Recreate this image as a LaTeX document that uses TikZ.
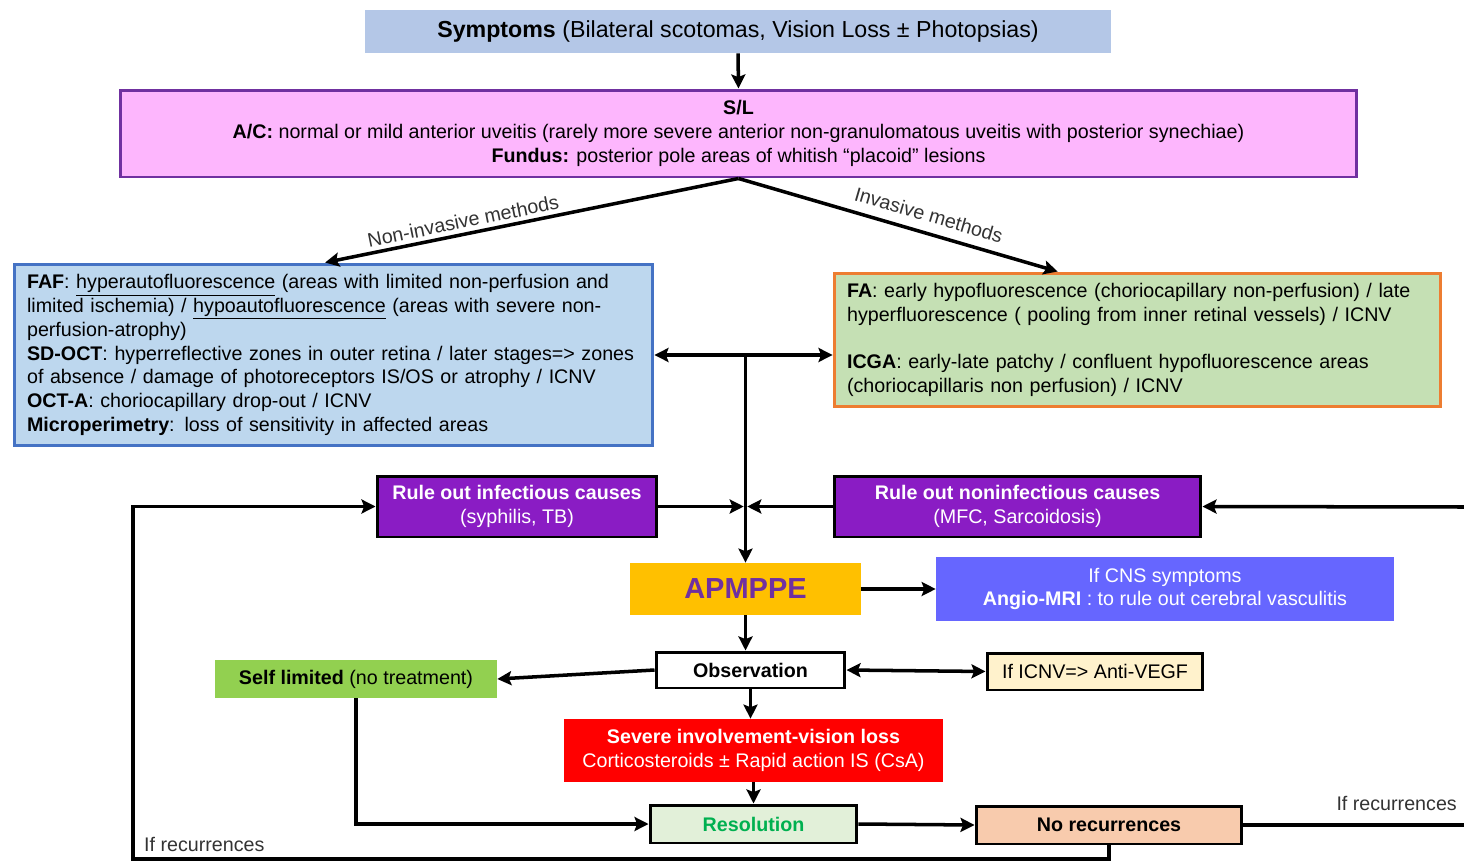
\documentclass[tikz,border=0pt]{standalone}
\usepackage{fontspec}
\setmainfont{Liberation Sans}
\usetikzlibrary{arrows.meta,calc}
\definecolor{symfill}{HTML}{B4C7E7}
\definecolor{slfill}{HTML}{FDB6FD}
\definecolor{slborder}{HTML}{7030A0}
\definecolor{niffill}{HTML}{BDD7EE}
\definecolor{nifborder}{HTML}{4472C4}
\definecolor{invfill}{HTML}{C5E0B4}
\definecolor{invborder}{HTML}{ED7D31}
\definecolor{rofill}{HTML}{8A1CC4}
\definecolor{apmfill}{HTML}{FFC000}
\definecolor{apmtext}{HTML}{7030A0}
\definecolor{angiofill}{HTML}{6666FF}
\definecolor{selffill}{HTML}{92D050}
\definecolor{icnvfill}{HTML}{FFF2CC}
\definecolor{sevfill}{HTML}{FF0000}
\definecolor{resfill}{HTML}{E2F0D9}
\definecolor{restext}{HTML}{00B050}
\definecolor{norecfill}{HTML}{F8CBAD}
\begin{document}
\begin{tikzpicture}[x=0.02cm,y=-0.02cm,
  base/.style={inner sep=0pt, align=center, font=\fontsize{11.2}{13.6}\selectfont},
  plain/.style={base, draw=none},
  bordered/.style={base, draw, line width=1.7pt},
  arr/.style={line width=2pt, -{Stealth[length=8pt,width=8pt,inset=1.5pt]}},
  darr/.style={line width=2pt, {Stealth[length=8pt,width=8pt,inset=1.5pt]}-{Stealth[length=8pt,width=8pt,inset=1.5pt]}},
  ln/.style={line width=2pt},
  lbl/.style={font=\fontsize{11.2}{13.6}\selectfont, text=black!80}
]
\useasboundingbox (0,0) rectangle (1464,862);
\fill[white] (0,0) rectangle (1464,862);

% nodes
\node[plain, fill=symfill, minimum width=14.92cm, minimum height=0.86cm, font=\fontsize{13.2}{15}\selectfont] (sym) at (738,31.5)
  {\textbf{Symptoms} (Bilateral scotomas, Vision Loss ± Photopsias)};
\node[bordered, draw=slborder, fill=slfill, minimum width=24.74cm, minimum height=1.74cm] (sl) at (738.5,133.5)
  {\textbf{S/L}\\ \textbf{A/C:} normal or mild anterior uveitis (rarely more severe anterior non-granulomatous uveitis with posterior synechiae)\\ \textbf{Fundus:} posterior pole areas of whitish “placoid” lesions};
\node[bordered, draw=nifborder, fill=niffill, minimum width=12.78cm, minimum height=3.64cm, text width=12.26cm, align=left] (nif) at (333.5,355)
  {\textbf{FAF}: \underline{hyperautofluorescence} (areas with limited non-perfusion and\\
   limited ischemia) / \underline{hypoautofluorescence} (areas with severe non-\\
   perfusion-atrophy)\\
   \textbf{SD-OCT}: hyperreflective zones in outer retina / later stages=> zones\\
   of absence / damage of photoreceptors IS/OS or atrophy / ICNV\\
   \textbf{OCT-A}: choriocapillary drop-out / ICNV\\
   \textbf{Microperimetry}: loss of sensitivity in affected areas};
\node[bordered, draw=invborder, fill=invfill, minimum width=12.14cm, minimum height=2.68cm, text width=11.62cm, align=left] (inv) at (1137.5,340)
  {\textbf{FA}: early hypofluorescence (choriocapillary non-perfusion) / late\\
   hyperfluorescence ( pooling from inner retinal vessels) / ICNV\\[13.6pt]
   \textbf{ICGA}: early-late patchy / confluent hypofluorescence areas\\
   (choriocapillaris non perfusion) / ICNV};
\node[bordered, fill=rofill, text=white, minimum width=5.6cm, minimum height=1.22cm] (inf) at (517,506.5)
  {\textbf{Rule out infectious causes}\\(syphilis, TB)};
\node[bordered, fill=rofill, text=white, minimum width=7.34cm, minimum height=1.22cm] (ninf) at (1017.5,506.5)
  {\textbf{Rule out noninfectious causes}\\(MFC, Sarcoidosis)};
\node[plain, fill=apmfill, text=apmtext, minimum width=4.62cm, minimum height=1.04cm, font=\fontsize{16.5}{19}\selectfont\bfseries] (apm) at (745.5,589) {APMPPE};
\node[plain, fill=angiofill, text=white, minimum width=9.16cm, minimum height=1.28cm] (angio) at (1165,589)
  {If CNS symptoms\\\textbf{Angio-MRI} : to rule out cerebral vasculitis};
\node[bordered, fill=white, minimum width=3.78cm, minimum height=0.72cm] (obs) at (750.5,670) {\textbf{Observation}};
\node[plain, fill=selffill, minimum width=5.64cm, minimum height=0.76cm] (self) at (356,679) {\textbf{Self limited} (no treatment)};
\node[bordered, fill=icnvfill, minimum width=4.32cm, minimum height=0.74cm] (icnv) at (1095,671.5) {If ICNV=> Anti-VEGF};
\node[plain, fill=sevfill, text=white, minimum width=7.58cm, minimum height=1.26cm] (sev) at (753.5,750.5)
  {\textbf{Severe involvement-vision loss}\\Corticosteroids ± Rapid action IS (CsA)};
\node[bordered, fill=resfill, text=restext, minimum width=4.14cm, minimum height=0.76cm] (res) at (753.5,824) {\textbf{Resolution}};
\node[bordered, fill=norecfill, minimum width=5.32cm, minimum height=0.76cm] (norec) at (1109,825) {\textbf{No recurrences}};

% free ends
\coordinate (bl) at (133,859);
\coordinate (redgetop) at (1464,507);
\coordinate (redgebot) at (1464,825);

% connectors
\draw[arr] (sym.south) -- (sl.north);
\draw[arr] (sl.south) -- node[lbl, pos=0.66, above, sloped, yshift=-1pt] {Non-invasive methods} ($(nif.north west)!0.487!(nif.north east)$);
\draw[arr] (sl.south) -- node[lbl, pos=0.58, above, sloped, yshift=2pt] {Invasive methods} ($(inv.north west)!0.369!(inv.north east)$);
\draw[darr] (nif.east) -- (nif.east -| inv.west);
\coordinate (j) at (nif.east -| apm.north);
\draw[arr] (j) -- (apm.north);
\coordinate (m) at (inf.east -| apm.north);
\draw[arr, shorten >=1pt] (inf.east) -- (m);
\draw[arr, shorten >=1pt] (ninf.west) -- (m);
\draw[arr] (redgetop) -- (ninf.east);
\draw[arr] (apm.east) -- (angio.west);
\draw[arr] (apm.south) -- (apm.south |- obs.north);
\draw[arr] (obs.west) -- (self.east);
\draw[darr] (obs.east) -- (icnv.west);
\draw[arr] (obs.south) -- (obs.south |- sev.north);
\draw[arr] (sev.south) -- (res.north);
\draw[arr] (self.south) |- (res.west);
\draw[arr] (res.east) -- (norec.west);
\draw[ln] (norec.east) -- (redgebot);
\node[lbl, anchor=south east] (lblR) at (1463,817) {If recurrences};
\draw[arr] (norec.south) |- (bl) |- (inf.west);
\node[lbl, anchor=south west] (lblL) at (138,858) {If recurrences};
\end{tikzpicture}
\end{document}
